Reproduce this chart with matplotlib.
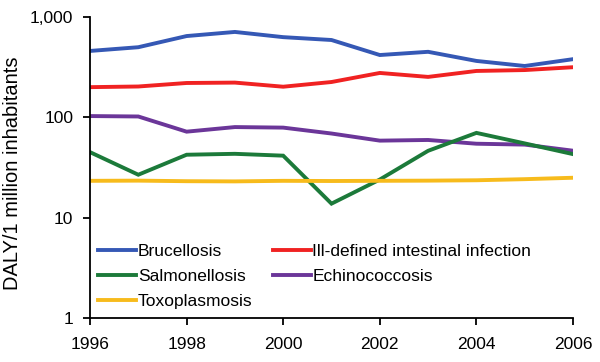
import matplotlib
matplotlib.use("Agg")
import matplotlib.pyplot as plt
from matplotlib.ticker import FixedLocator, FuncFormatter, NullLocator

plt.rcParams['font.family'] = ['Liberation Sans', 'DejaVu Sans']

years = list(range(1996, 2007))
brucellosis = [459, 500, 646, 710, 630, 590, 418, 450, 365, 325, 380]
ill_defined = [200, 203, 220, 222, 202, 225, 277, 253, 290, 296, 316]
salmonellosis = [45, 26.8, 42.4, 43.3, 41.5, 13.8, 24, 46.4, 70, 55, 43]
echinococcosis = [103, 102, 72, 80, 79, 69, 58.6, 59.5, 54.6, 53.5, 46.5]
toxoplasmosis = [23.3, 23.4, 23.1, 23.0, 23.3, 23.2, 23.3, 23.4, 23.6, 24.2, 25.0]

series = [
    ("Brucellosis", brucellosis, "#3558B5"),
    ("Salmonellosis", salmonellosis, "#1C7A3A"),
    ("Toxoplasmosis", toxoplasmosis, "#F7BB1C"),
    ("Ill-defined intestinal infection", ill_defined, "#F02222"),
    ("Echinococcosis", echinococcosis, "#6B3699"),
]
draw_order = [0, 3, 4, 1, 2]

fig = plt.figure(figsize=(6, 3.62), dpi=100)
ax = fig.add_axes([0.15, 0.1215, 0.805, 0.8315])

lines = {}
for i in draw_order:
    name, vals, col = series[i]
    ln, = ax.plot(years, vals, color=col, lw=2.8, label=name, solid_joinstyle='miter')
    lines[i] = ln

ax.set_yscale('log')
ax.set_ylim(1, 1000)
ax.set_xlim(1996, 2006)
ax.yaxis.set_major_locator(FixedLocator([1, 10, 100, 1000]))
ax.yaxis.set_minor_locator(NullLocator())
ax.yaxis.set_major_formatter(FuncFormatter(lambda v, p: f"{int(v):,}"))
ax.set_xticks([1996, 1998, 2000, 2002, 2004, 2006])

for s in ['top', 'right']:
    ax.spines[s].set_visible(False)
for s in ['left', 'bottom']:
    ax.spines[s].set_linewidth(1.3)
ax.tick_params(axis='both', which='major', labelsize=12.5, length=5, width=1.3, direction='out')
ax.tick_params(axis='y', pad=7)
ax.tick_params(axis='x', pad=9)
ax.set_ylabel("DALY/1 million inhabitants", fontsize=14.5, labelpad=6)
ax.yaxis.label.set_y(0.48)

handles = [lines[i] for i in range(5)]
labels = [series[i][0] for i in range(5)]
ax.legend(handles, labels, ncol=2, loc='lower left', bbox_to_anchor=(-0.005, -0.005),
          frameon=False, fontsize=12.5, handlelength=2.2, handletextpad=0.1,
          columnspacing=1.15, labelspacing=0.58, borderaxespad=0.2)

fig.savefig("out.png", dpi=100)
